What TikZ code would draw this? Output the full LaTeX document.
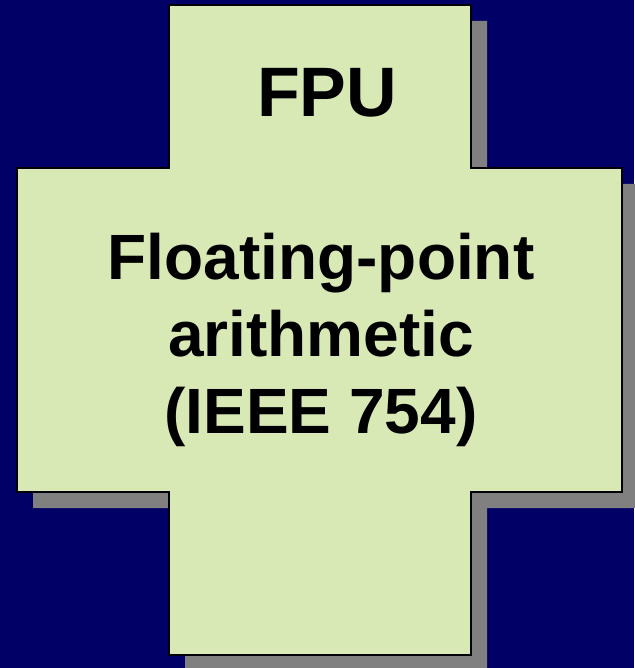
\documentclass[tikz,border=0pt]{standalone}
\usepackage{fontspec}
\setmainfont{Liberation Sans}
\definecolor{slidenavy}{RGB}{0, 0, 102}
\definecolor{crossgreen}{RGB}{217, 233, 181}
\definecolor{shadowgray}{RGB}{128, 128, 128}
\usepackage{tikz}
\usetikzlibrary{positioning}
\newcommand{\crossoutline}{(169,5) -- (471,5) -- (471,168) -- (622,168) -- (622,492) -- (471,492) -- (471,655) -- (169,655) -- (169,492) -- (17,492) -- (17,168) -- (169,168) -- cycle}

\begin{document}
\begin{tikzpicture}[
  x=1pt, y=-1pt,
  crossbox/.style={draw=black, line width=1.5pt, fill=crossgreen, line join=miter},
  crossshadow/.style={fill=shadowgray, shift={(16,16)}},
  bigtext/.style={inner sep=0pt, align=center, font=\bfseries\fontsize{64}{77}\selectfont}
]
  \fill[slidenavy] (0,0) rectangle (634,668);
  \useasboundingbox (0,0) rectangle (634,668);
  \fill[crossshadow] \crossoutline;
  \draw[crossbox] \crossoutline;
  \node[bigtext, anchor=base, font=\bfseries\fontsize{70}{84}\selectfont] (fpu) at (327,117) {FPU};
  \node[bigtext] (fparith) at (321,340) {Floating-point\\arithmetic\\(IEEE 754)};
\end{tikzpicture}
\end{document}
